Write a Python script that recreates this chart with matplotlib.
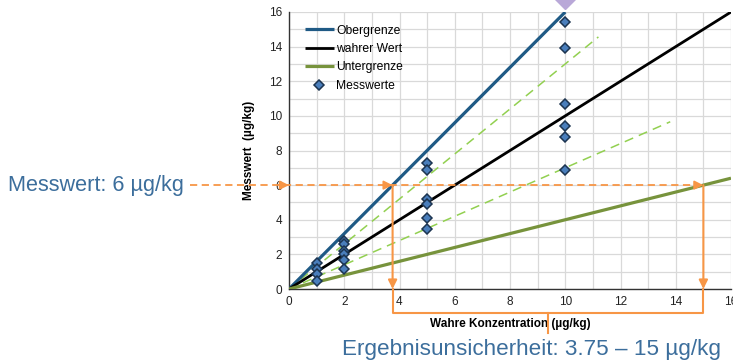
import matplotlib
matplotlib.use("Agg")
import matplotlib.pyplot as plt
from matplotlib.ticker import MultipleLocator
import numpy as np

plt.rcParams['font.family'] = ['Liberation Sans', 'DejaVu Sans']

# ---- data ----
x_ober = [0, 10]
y_ober = [0, 16]
x_wahr = [0, 16]
y_wahr = [0, 16]
x_unter = [0, 16]
y_unter = [0, 6.4]
x_dash_hi = [0, 11.2]
y_dash_hi = [0, 14.56]
x_dash_lo = [0, 13.8]
y_dash_lo = [0, 9.66]

mess_x = [1, 1, 1, 1,
          2, 2, 2, 2, 2, 2,
          5, 5, 5, 5, 5, 5,
          10, 10, 10, 10, 10, 10]
mess_y = [1.5, 1.15, 0.85, 0.45,
          2.8, 2.6, 2.2, 2.05, 1.65, 1.15,
          7.25, 6.9, 5.2, 4.9, 4.1, 3.45,
          15.4, 13.9, 10.7, 9.4, 8.8, 6.85]

messwert = 6
lo_conc = 3.75
hi_conc = 15
xticks = [0, 2, 4, 6, 8, 10, 12, 14, 16]
yticks = [0, 2, 4, 6, 8, 10, 12, 14, 16]

W, H = 733, 362
fig = plt.figure(figsize=(W / 100, H / 100), dpi=100)
ax = fig.add_axes([289 / W, 1 - 289 / H, (731 - 289) / W, (289 - 12) / H])

c_blue = '#1f5a85'
c_green = '#77933c'
c_lgreen = '#92d050'
c_orange = '#f79646'
c_text = '#3c6e9c'

ax.set_xlim(0, 16)
ax.set_ylim(0, 16)
ax.xaxis.set_minor_locator(MultipleLocator(1))
ax.yaxis.set_minor_locator(MultipleLocator(1))
ax.set_xticks(xticks)
ax.set_yticks(yticks)
ax.grid(True, which='both', color='#d9d9d9', lw=0.9)
ax.set_axisbelow(True)
ax.tick_params(which='both', length=0, labelsize=8.5, colors='#222222', pad=5)
for s in ['top', 'right']:
    ax.spines[s].set_visible(False)
for s in ['left', 'bottom']:
    ax.spines[s].set_color('#333333')
    ax.spines[s].set_linewidth(1.0)

ax.plot(x_dash_hi, y_dash_hi, color=c_lgreen, lw=1.1, ls=(0, (6, 4)), zorder=2)
ax.plot(x_dash_lo, y_dash_lo, color=c_lgreen, lw=1.1, ls=(0, (6, 4)), zorder=2)
ax.plot(x_ober, y_ober, color=c_blue, lw=2.3, label='Obergrenze', zorder=3, solid_capstyle='butt')
ax.plot(x_wahr, y_wahr, color='black', lw=2.0, label='wahrer Wert', zorder=3, solid_capstyle='butt')
ax.plot(x_unter, y_unter, color=c_green, lw=2.3, label='Untergrenze', zorder=3, solid_capstyle='butt')
ax.plot(mess_x, mess_y, ls='none', marker='D', ms=5.2, mfc='#4a7ebb', mec='#1c3450',
        mew=1.1, label='Messwerte', zorder=5)

# lavender marker partially visible at top
ax.plot([10], [16.9], marker='D', ms=13, color='#b9a8d8', ls='none', clip_on=False, zorder=1)

leg = ax.legend(loc='upper left', bbox_to_anchor=(0.016, 0.985), frameon=False, fontsize=8.7,
                handlelength=2.4, handletextpad=0.2, labelspacing=0.53, borderaxespad=0.3)

ax.set_xlabel('Wahre Konzentration (µg/kg)', fontsize=8.5, fontweight='bold', labelpad=7)
ax.set_ylabel('Messwert  (µg/kg)', fontsize=8.5, fontweight='bold', labelpad=10)

# ---- orange annotations ----
x_left = (190 - 289) / 27.6
ax.plot([x_left, hi_conc - 0.2], [messwert, messwert], color=c_orange, lw=1.3,
        ls=(0, (4, 2.5)), clip_on=False, zorder=6)
for xt in [0, lo_conc, hi_conc]:
    ax.annotate('', xy=(xt, messwert), xytext=(xt - 0.3, messwert),
                arrowprops=dict(arrowstyle='-|>', color=c_orange, lw=1.3,
                                mutation_scale=13, shrinkA=0, shrinkB=0),
                annotation_clip=False, zorder=7)
y_br = -(313 - 289) / 17.3
y_tick = -(333 - 289) / 17.3
for xt in [lo_conc, hi_conc]:
    ax.annotate('', xy=(xt, 0), xytext=(xt, messwert),
                arrowprops=dict(arrowstyle='-|>', color=c_orange, lw=1.5,
                                mutation_scale=13, shrinkA=0, shrinkB=0),
                annotation_clip=False, zorder=7)
xm = (lo_conc + hi_conc) / 2
ax.plot([lo_conc, lo_conc, hi_conc, hi_conc], [0, y_br, y_br, 0], color=c_orange, lw=1.5,
        clip_on=False, solid_joinstyle='round', zorder=7)
ax.plot([xm, xm], [y_br, y_tick], color=c_orange, lw=1.5, clip_on=False, zorder=7)

fig.text(8 / W, 1 - 185 / H, 'Messwert: 6 µg/kg', fontsize=15.6, color=c_text,
         ha='left', va='center')
fig.text(531 / W, 1 - 349 / H, 'Ergebnisunsicherheit: 3.75 – 15 µg/kg', fontsize=16.2,
         color=c_text, ha='center', va='center')

fig.savefig('out.png', dpi=100)
